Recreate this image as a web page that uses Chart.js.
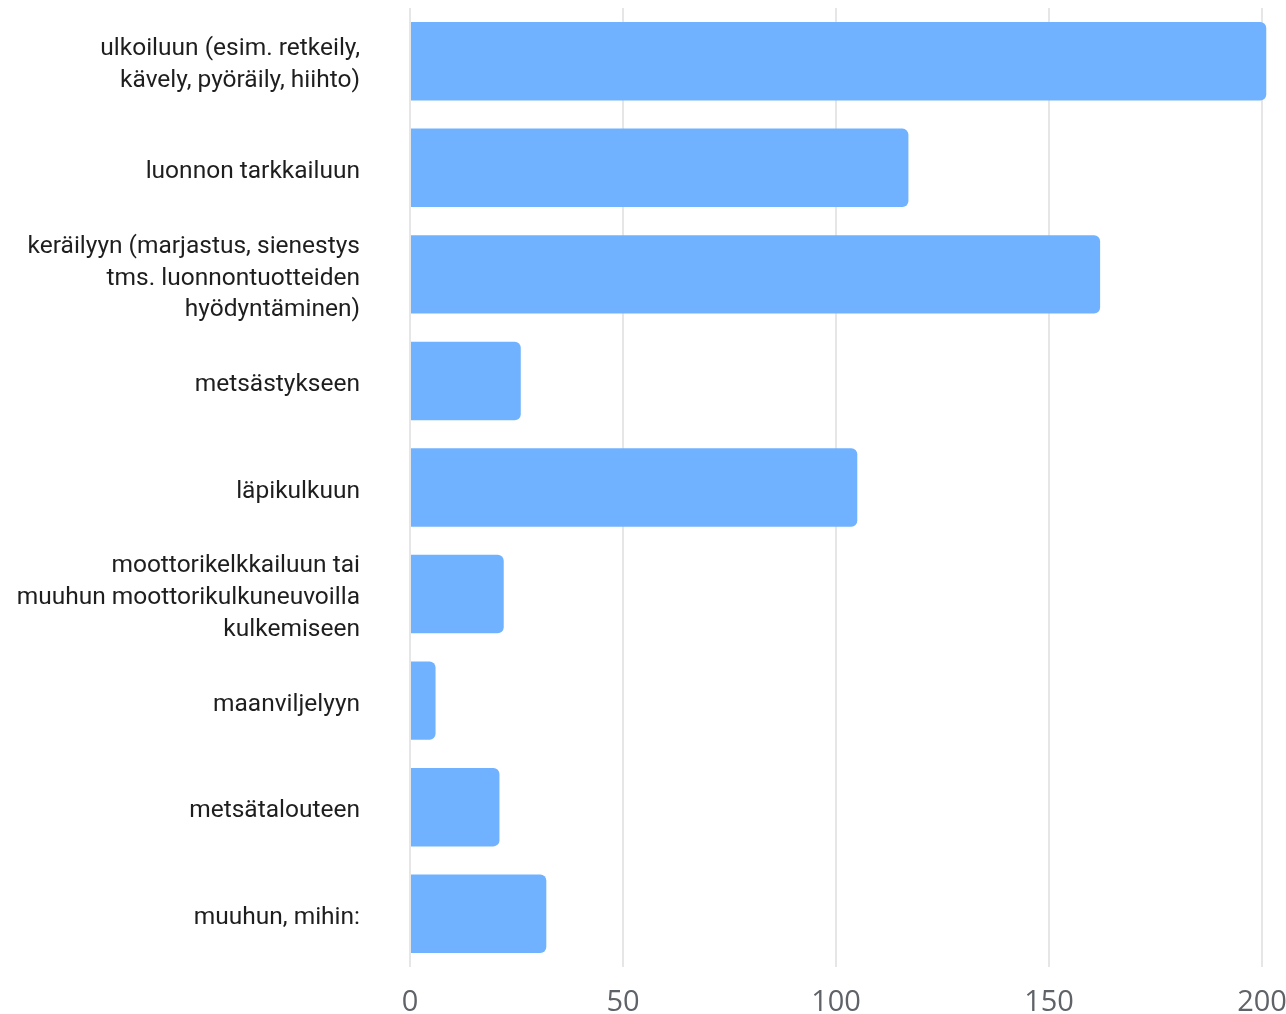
<!DOCTYPE html>
<html>
<head>
<meta charset="utf-8">
<script src="https://cdn.jsdelivr.net/npm/chart.js@4"></script>
<style>
  html, body { margin: 0; padding: 0; background: #fff; }
  #wrap { width: 1286px; height: 1014px; }
</style>
</head>
<body>
<div id="wrap"><canvas id="chart"></canvas></div>
<script>
// Luokat (monirivinen teksti taulukkoina)
const categories = [
    ['ulkoiluun (esim. retkeily,', 'kävely, pyöräily, hiihto)'],
    'luonnon tarkkailuun',
    ['keräilyyn (marjastus, sienestys', 'tms. luonnontuotteiden', 'hyödyntäminen)'],
    'metsästykseen',
    'läpikulkuun',
    ['moottorikelkkailuun tai', 'muuhun moottorikulkuneuvoilla', 'kulkemiseen'],
    'maanviljelyyn',
    'metsätalouteen',
    'muuhun, mihin:'
];

// Vastausmäärät
const counts = [201, 117, 162, 26, 105, 22, 6, 21, 32];

// X-akselin asteikko
const xTicks = [0, 50, 100, 150, 200];

const ctx = document.getElementById('chart');

new Chart(ctx, {
    type: 'bar',
    data: {
        labels: categories,
        datasets: [{
            data: counts,
            backgroundColor: 'rgb(112, 178, 255)',
            borderWidth: 0,
            borderRadius: { topRight: 6, bottomRight: 6 },
            borderSkipped: 'start',
            categoryPercentage: 0.8,
            barPercentage: 0.92,
            clip: false
        }]
    },
    options: {
        indexAxis: 'y',
        responsive: true,
        maintainAspectRatio: false,
        animation: false,
        layout: { padding: { top: 8, right: 24, bottom: 0, left: 0 } },
        plugins: {
            legend: { display: false },
            tooltip: { enabled: false }
        },
        scales: {
            x: {
                min: xTicks[0],
                max: xTicks[xTicks.length - 1],
                afterBuildTicks: scale => { scale.ticks = xTicks.map(v => ({ value: v })); },
                afterFit: scale => {
                    scale.height = 47;
                    scale.paddingLeft = 0;
                    scale.paddingRight = 0;
                },
                border: { display: false },
                grid: { color: '#e6e6e6', lineWidth: 2, drawTicks: false },
                ticks: {
                    padding: 18,
                    color: '#5f6368',
                    font: { family: 'Open Sans', size: 29 }
                }
            },
            y: {
                afterFit: scale => {
                    scale.width = 410;
                    scale.paddingTop = 0;
                    scale.paddingBottom = 0;
                },
                border: { display: false },
                grid: { display: false, drawTicks: false },
                ticks: {
                    padding: 50,
                    labelOffset: 4,
                    color: '#1e1e1e',
                    font: { family: 'Roboto', size: 24.5, lineHeight: 1.3 }
                }
            }
        }
    }
});
</script>
</body>
</html>
